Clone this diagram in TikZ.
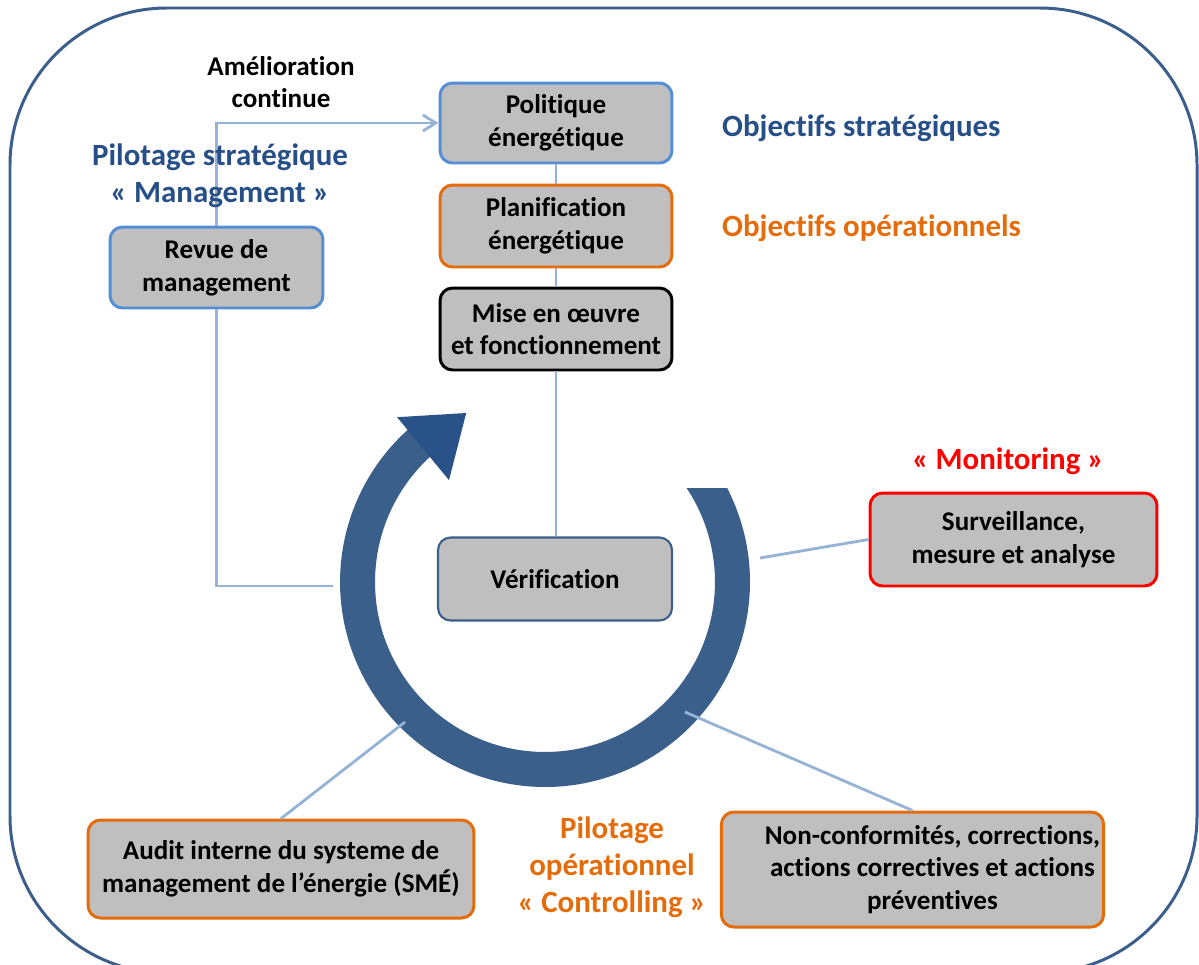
\documentclass[tikz,border=0pt]{standalone}
\usepackage{fontspec}
\setmainfont{Carlito}[Ligatures=NoCommon]
\usepackage{tikz}
\usetikzlibrary{arrows.meta}

\definecolor{frameblue}{RGB}{59,94,140}
\definecolor{ringblue}{RGB}{58,95,139}
\definecolor{tipblue}{RGB}{40,82,136}
\definecolor{linkblue}{RGB}{149,179,215}
\definecolor{boxblue}{RGB}{85,142,213}
\definecolor{titleblue}{RGB}{38,78,135}
\definecolor{orangeS}{RGB}{228,108,10}
\definecolor{boxgray}{RGB}{191,191,191}

\begin{document}
\begin{tikzpicture}[
    x=0.02cm, y=-0.02cm,
    font=\bfseries\fontsize{15.4}{18.6}\selectfont,
    >={Straight Barb[length=2.6mm,width=3.2mm]},
    box/.style={draw, fill=boxgray, line width=1.7pt, rounded corners=0.25cm,
      align=center, inner sep=2pt},
    link/.style={draw=linkblue, line width=1.6pt},
    big/.style={font=\bfseries\fontsize{17.6}{21}\selectfont, align=center},
  ]
  \useasboundingbox (0,0) rectangle (1199,964);
  \clip (0,0) rectangle (1199,964);

  %% ---- outer frame ----------------------------------------------------
  \draw[frameblue, line width=1.7pt, rounded corners=3.14cm]
    (10,8) rectangle (1197,973);

  %% ---- cycle ring -----------------------------------------------------
  \begin{scope}[shift={(545,582)}]
    \fill[ringblue] (27.3:4.1cm) arc[start angle=27.3, end angle=-228, radius=4.1cm]
      -- (-228:3.4cm) arc[start angle=-228, end angle=33.57, radius=3.4cm] -- cycle;
    \fill[tipblue] (131.9:4.43cm) -- (115:3.73cm) -- (133.3:2.8cm) -- cycle;
  \end{scope}
  \coordinate (ringW) at (333,586);
  \coordinate (ringE) at (760,558);
  \coordinate (ringSW) at (405,722);
  \coordinate (ringSE) at (685,712);

  %% ---- boxes ----------------------------------------------------------
  \node[box, draw=boxblue, minimum width=4.64cm, minimum height=1.6cm]
    (pol) at (556,123) {Politique\\énergétique};
  \node[box, draw=orangeS, minimum width=4.64cm, minimum height=1.64cm]
    (plan) at (556,226) {Planification\\énergétique};
  \node[box, draw=black, minimum width=4.64cm, minimum height=1.64cm]
    (mise) at (556,329) {Mise en œuvre\\et fonctionnement};
  \node[box, draw=ringblue, line width=1.2pt, minimum width=4.68cm, minimum height=1.66cm]
    (verif) at (555,579) {Vérification};
  \node[box, draw=boxblue, minimum width=4.26cm, minimum height=1.62cm]
    (revue) at (216.5,267.5) {Revue de\\management};
  \node[box, draw=red, minimum width=5.74cm, minimum height=1.86cm]
    (surv) at (1013.5,539.5) {Surveillance,\\mesure et analyse};
  \node[box, draw=orangeS, minimum width=7.72cm, minimum height=1.96cm]
    (audit) at (281,869) {Audit interne du systeme de\\management de l’énergie (SMÉ)};
  \node[box, draw=orangeS, minimum width=7.62cm, minimum height=2.3cm]
    (nc) at (912.5,869.5) {\hspace*{0.8cm}Non-conformités, corrections,\\
      \hspace*{0.8cm}actions correctives et actions\\\hspace*{0.8cm}préventives};

  %% ---- links ----------------------------------------------------------
  \draw[link, ->] (revue.north) |- (pol.west);
  \draw[link] (pol.south) -- (plan.north);
  \draw[link] (plan.south) -- (mise.north);
  \draw[link] (mise.south) -- (mise.south |- verif.north);
  \draw[link] (revue.south) |- (ringW);
  \draw[link] (surv.west) -- (ringE);
  \draw[link] (audit.north) -- (ringSW);
  \draw[link] (nc.north) -- (ringSE);

  %% ---- labels ---------------------------------------------------------
  \node[align=center] (amel) at (281,82) {Amélioration\\continue};
  \node[big, titleblue] (pstrat) at (220,176) {Pilotage stratégique\\« Management »};
  \node[big, titleblue, anchor=west] (ostrat) at (716,128) {Objectifs stratégiques};
  \node[big, orangeS, anchor=west] (oop) at (716,228) {Objectifs opérationnels};
  \node[big, red] (monit) at (1008,461) {« Monitoring »};
  \node[big, orangeS] (pop) at (612,867) {Pilotage\\opérationnel\\« Controlling »};
\end{tikzpicture}
\end{document}
